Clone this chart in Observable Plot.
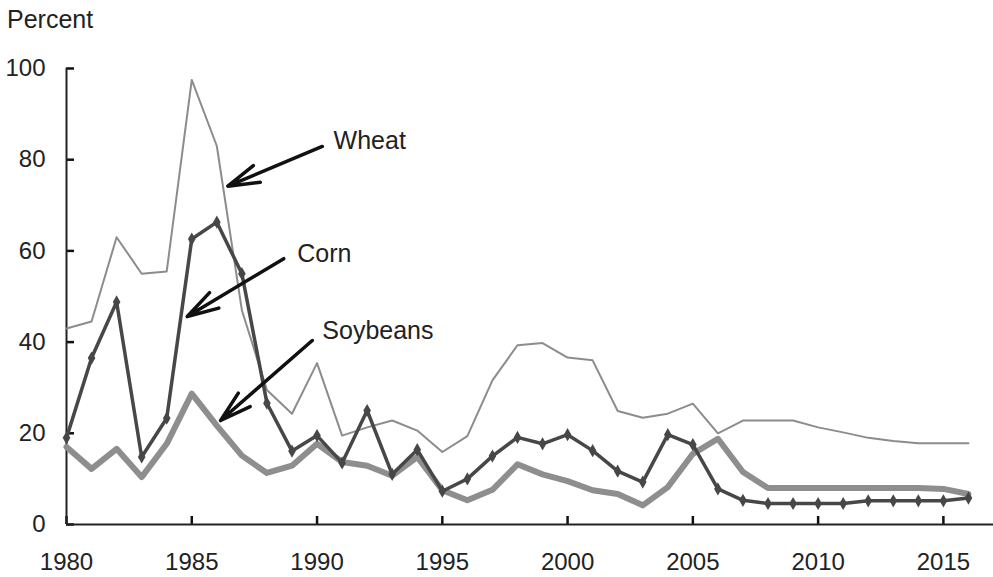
<!DOCTYPE html>
<html>
<head>
<meta charset="utf-8">
<script src="https://cdn.jsdelivr.net/npm/d3@7"></script>
<script src="https://cdn.jsdelivr.net/npm/@observablehq/plot@0.6"></script>
<style>
  html, body { margin: 0; padding: 0; background: #fff; }
  body { width: 993px; height: 577px; position: relative; overflow: hidden; font-family: "Liberation Sans", Arial, sans-serif; color: #222; }
  #unit { position: absolute; left: 7px; top: 7px; font-size: 25px; line-height: 25px; }
  #chart { position: absolute; left: 0; top: 45px; }
  #chart svg { display: block; }
</style>
</head>
<body>
<div id="unit">Percent</div>
<div id="chart"></div>
<script>
const years = d3.range(1980, 2017);
const wheat = [43, 44.5, 63, 55, 55.5, 97.5, 83, 47, 29.5, 24.3, 35.4, 19.5, 21.3, 22.8, 20.6, 15.9, 19.4, 31.6, 39.3, 39.8, 36.6, 36, 24.9, 23.4, 24.3, 26.5, 20, 22.8, 22.8, 22.8, 21.3, 20.2, 19, 18.3, 17.8, 17.8, 17.8];
const corn = [19, 36.5, 48.8, 14.8, 23.3, 62.6, 66.3, 55, 26.6, 16.1, 19.5, 13.5, 25, 11, 16.4, 7.3, 10, 15, 19.1, 17.7, 19.7, 16.2, 11.7, 9.3, 19.7, 17.5, 7.8, 5.3, 4.6, 4.6, 4.6, 4.6, 5.2, 5.2, 5.2, 5.2, 5.8];
const soybeans = [17, 12.2, 16.6, 10.4, 17.7, 28.7, 21.7, 15.1, 11.3, 12.9, 17.7, 13.7, 12.9, 10.7, 14.8, 7.5, 5.3, 7.6, 13.2, 11, 9.5, 7.5, 6.7, 4.2, 8.2, 15.5, 18.8, 11.5, 8, 8, 8, 8, 8, 8, 8, 7.8, 6.7];
const xTicks = [1980, 1985, 1990, 1995, 2000, 2005, 2010, 2015];
const yTicks = [0, 20, 40, 60, 80, 100];
const labels = [
  {name: "Wheat", x: 1990.66, y: 84.0},
  {name: "Corn", x: 1989.21, y: 59.4},
  {name: "Soybeans", x: 1990.21, y: 42.5}
];
const arrows = [
  {x1: 1990.21, y1: 82.9, x2: 1986.44, y2: 74.2},
  {x1: 1988.67, y1: 58.3, x2: 1984.82, y2: 45.6},
  {x1: 1989.81, y1: 40.35, x2: 1986.15, y2: 22.8}
];

const table = years.map((year, i) => ({year, wheat: wheat[i], corn: corn[i], soybeans: soybeans[i]}));

const plot = Plot.plot({
  width: 993,
  height: 532,
  marginLeft: 66,
  marginRight: 0,
  marginTop: 23,
  marginBottom: 53,
  x: {domain: [1980, 2017]},
  y: {domain: [0, 100]},
  style: {fontFamily: '"Liberation Sans", Arial, sans-serif', fontSize: "24px", color: "#222", background: "#fff", overflow: "visible"},
  marks: [
    Plot.axisY({ticks: yTicks, tickSize: 0, tickPadding: 21, label: null, tickFormat: "d"}),
    Plot.axisX({ticks: xTicks, tickSize: 0, tickPadding: 28, label: null, tickFormat: "d"}),
    Plot.tickY(yTicks, {y: d => d, stroke: "#111", strokeWidth: 2.5, insetRight: 919}),
    Plot.tickX(xTicks, {x: d => d, stroke: "#111", strokeWidth: 2.5, insetTop: 448}),
    Plot.ruleX([1980], {y1: 0, y2: 100, stroke: "#222", strokeWidth: 2}),
    Plot.ruleY([0], {stroke: "#222", strokeWidth: 2}),
    Plot.line(table, {x: "year", y: "wheat", stroke: "#8c8c8c", strokeWidth: 2}),
    Plot.line(table, {x: "year", y: "soybeans", stroke: "#8e8e8e", strokeWidth: 6}),
    Plot.line(table, {x: "year", y: "corn", stroke: "#474747", strokeWidth: 3.5}),
    Plot.dot(table, {x: "year", y: "corn", symbol: "diamond", r: 4, fill: "#474747", stroke: null}),
    Plot.arrow(arrows, {x1: "x1", y1: "y1", x2: "x2", y2: "y2", stroke: "#111", strokeWidth: 3.5, headLength: 14, headAngle: 32}),
    Plot.text(labels, {x: "x", y: "y", text: "name", textAnchor: "start", fontSize: 25, fill: "#222"})
  ]
});
document.getElementById("chart").appendChild(plot);
</script>
</body>
</html>
